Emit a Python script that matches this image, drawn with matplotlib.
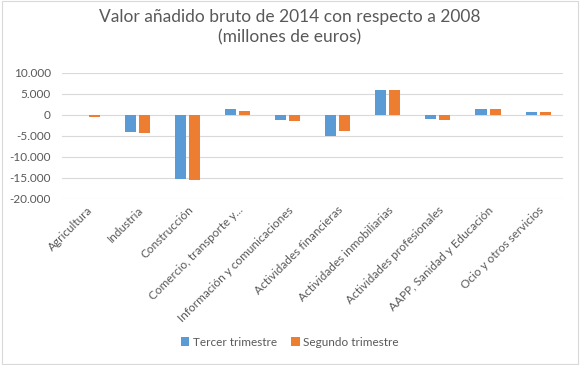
import numpy as np
import matplotlib
matplotlib.use("Agg")
import matplotlib.pyplot as plt
from matplotlib.ticker import FuncFormatter

plt.rcParams['font.family'] = ['Lato', 'DejaVu Sans']

# Datos
sectores = ["Agricultura", "Industria", "Construcción", "Comercio, transporte y...",
            "Información y comunicaciones", "Actividades financieras",
            "Actividades inmobiliarias", "Actividades profesionales",
            "AAPP, Sanidad y Educación", "Ocio y otros servicios"]
tercer = [0, -4100, -15300, 1500, -1300, -4900, 6000, -1000, 1500, 600]
segundo = [-400, -4300, -15500, 1000, -1500, -3900, 6000, -1300, 1500, 600]

gris = "#595959"
x = np.arange(len(sectores))
w = 0.22

fig = plt.figure(figsize=(5.8, 3.65), dpi=100)
ax = fig.add_axes([0.107, 0.455, 0.864, 0.345])

ax.bar(x - 0.14, tercer, w, color="#5B9BD5", label="Tercer trimestre", zorder=3)
ax.bar(x + 0.14, segundo, w, color="#ED7D31", label="Segundo trimestre", zorder=3)

ax.set_ylim(-20000, 10000)
ax.set_yticks(np.arange(-20000, 10001, 5000))
ax.yaxis.set_major_formatter(FuncFormatter(lambda v, p: f"{int(v):,}".replace(",", ".")))
ax.set_xlim(-0.5, len(sectores) - 0.5)
ax.set_xticks(x)
ax.set_xticklabels(sectores, rotation=45, ha="right", rotation_mode="anchor", fontsize=8.5, color=gris)
ax.tick_params(axis="y", labelsize=8.5, colors=gris, length=0, pad=8)
ax.tick_params(axis="x", length=0, pad=4)
ax.grid(axis="y", color="#D9D9D9", linewidth=0.8, zorder=0)
for s in ax.spines.values():
    s.set_visible(False)

fig.suptitle("Valor añadido bruto de 2014 con respecto a 2008\n(millones de euros)",
             y=0.975, fontsize=12.5, color=gris, linespacing=1.3)

ax.legend(loc="center", ncol=2, frameon=False, fontsize=8.5, labelcolor=gris,
          handlelength=0.7, handleheight=0.7, handletextpad=0.3, columnspacing=1.2,
          bbox_to_anchor=(0.5, 1 - 342 / 365), bbox_transform=fig.transFigure)

fig.patches.append(plt.Rectangle((0.003, 0.003), 0.994, 0.994, transform=fig.transFigure,
                                 fill=False, edgecolor="#D9D9D9", linewidth=0.8))

fig.savefig("out.png", dpi=100)
